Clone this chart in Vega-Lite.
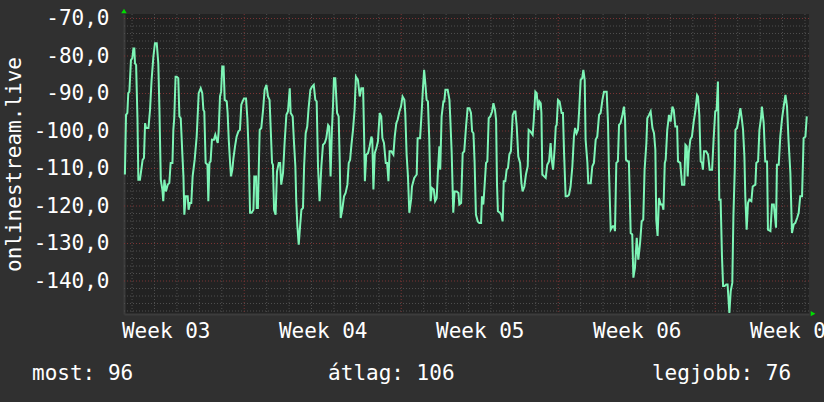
{
"$schema": "https://vega.github.io/schema/vega-lite/v6.json",
"width": 685, "height": 300,
"autosize": "none",
"padding": {"left": 124, "top": 14, "right": 15, "bottom": 88},
"background": "#303030",
"config": {
 "view": {"fill": "#222222", "stroke": null},
 "font": "DejaVu Sans Mono",
 "axis": {"grid": false, "ticks": false, "domain": true, "domainColor": "#3c3c3c", "domainWidth": 2, "labelColor": "#ffffff", "labelFont": "DejaVu Sans Mono", "labelFontSize": 21, "labelFlush": false, "labelOverlap": false, "labelBound": false},
 "axisX": {"labelPadding": 6},
 "axisY": {"labelPadding": 15, "titleColor": "#ffffff", "titleFont": "DejaVu Sans Mono", "titleFontSize": 21, "titleFontWeight": "normal", "titleAngle": -90, "titleX": -110, "titleY": 150, "titleBaseline": "middle", "titleAlign": "center"}
},
"datasets": {
"series": [
{"t":-0.32,"v":-111.6},{"t":-0.27,"v":-95.7},{"t":-0.21,"v":-95.2},{"t":-0.17,"v":-89.9},{"t":-0.12,"v":-89.5},{"t":-0.05,"v":-81.1},{"t":0.01,"v":-80.6},{"t":0.06,"v":-78.0},{"t":0.10,"v":-78.0},{"t":0.13,"v":-82.0},{"t":0.18,"v":-82.4},{"t":0.24,"v":-96.6},{"t":0.28,"v":-113.0},{"t":0.35,"v":-113.0},{"t":0.40,"v":-110.8},{"t":0.47,"v":-107.7},{"t":0.53,"v":-107.2},{"t":0.58,"v":-97.9},{"t":0.62,"v":-99.2},{"t":0.73,"v":-99.2},{"t":0.80,"v":-94.4},{"t":0.87,"v":-86.4},{"t":0.95,"v":-80.2},{"t":1.02,"v":-76.6},{"t":1.10,"v":-76.6},{"t":1.17,"v":-82.0},{"t":1.22,"v":-94.4},{"t":1.28,"v":-113.0},{"t":1.35,"v":-115.6},{"t":1.39,"v":-118.7},{"t":1.44,"v":-113.0},{"t":1.51,"v":-116.1},{"t":1.59,"v":-114.3},{"t":1.66,"v":-113.9},{"t":1.72,"v":-108.5},{"t":1.80,"v":-108.5},{"t":1.84,"v":-99.7},{"t":1.88,"v":-96.6},{"t":1.94,"v":-85.5},{"t":1.99,"v":-85.5},{"t":2.06,"v":-85.9},{"t":2.11,"v":-96.1},{"t":2.17,"v":-96.6},{"t":2.24,"v":-105.9},{"t":2.29,"v":-112.1},{"t":2.33,"v":-122.3},{"t":2.39,"v":-117.4},{"t":2.48,"v":-117.4},{"t":2.52,"v":-121.0},{"t":2.58,"v":-119.2},{"t":2.64,"v":-119.2},{"t":2.70,"v":-112.1},{"t":2.79,"v":-107.7},{"t":2.88,"v":-101.5},{"t":2.93,"v":-95.2},{"t":2.97,"v":-89.9},{"t":3.06,"v":-88.6},{"t":3.13,"v":-89.9},{"t":3.18,"v":-94.4},{"t":3.22,"v":-94.8},{"t":3.28,"v":-108.5},{"t":3.36,"v":-109.0},{"t":3.40,"v":-118.7},{"t":3.45,"v":-108.5},{"t":3.50,"v":-108.1},{"t":3.56,"v":-102.3},{"t":3.65,"v":-102.3},{"t":3.71,"v":-101.0},{"t":3.77,"v":-102.3},{"t":3.82,"v":-103.2},{"t":3.86,"v":-100.1},{"t":3.92,"v":-90.8},{"t":3.97,"v":-89.5},{"t":4.02,"v":-82.8},{"t":4.08,"v":-82.8},{"t":4.13,"v":-91.7},{"t":4.22,"v":-92.1},{"t":4.26,"v":-95.2},{"t":4.31,"v":-102.3},{"t":4.37,"v":-108.5},{"t":4.41,"v":-112.1},{"t":4.47,"v":-110.3},{"t":4.52,"v":-107.2},{"t":4.59,"v":-104.1},{"t":4.66,"v":-101.5},{"t":4.74,"v":-100.1},{"t":4.81,"v":-99.7},{"t":4.87,"v":-93.0},{"t":4.93,"v":-92.1},{"t":4.99,"v":-91.3},{"t":5.08,"v":-91.3},{"t":5.14,"v":-96.6},{"t":5.20,"v":-105.9},{"t":5.26,"v":-121.8},{"t":5.33,"v":-121.8},{"t":5.41,"v":-121.0},{"t":5.45,"v":-112.1},{"t":5.53,"v":-112.1},{"t":5.56,"v":-120.5},{"t":5.61,"v":-120.5},
{"t":5.66,"v":-107.2},{"t":5.69,"v":-99.7},{"t":5.76,"v":-99.2},{"t":5.84,"v":-94.4},{"t":5.91,"v":-89.0},{"t":5.99,"v":-87.7},{"t":6.06,"v":-90.8},{"t":6.13,"v":-91.7},{"t":6.18,"v":-99.2},{"t":6.24,"v":-108.5},{"t":6.28,"v":-109.0},{"t":6.33,"v":-121.0},{"t":6.40,"v":-122.3},{"t":6.46,"v":-110.8},{"t":6.54,"v":-108.5},{"t":6.60,"v":-108.5},{"t":6.65,"v":-114.3},{"t":6.73,"v":-111.2},{"t":6.80,"v":-103.2},{"t":6.88,"v":-95.7},{"t":6.95,"v":-94.8},{"t":7.03,"v":-88.6},{"t":7.07,"v":-95.2},{"t":7.16,"v":-96.1},{"t":7.22,"v":-103.2},{"t":7.28,"v":-109.4},{"t":7.32,"v":-118.7},{"t":7.37,"v":-125.4},{"t":7.43,"v":-130.3},{"t":7.49,"v":-125.4},{"t":7.55,"v":-121.0},{"t":7.62,"v":-120.5},{"t":7.67,"v":-109.4},{"t":7.74,"v":-100.6},{"t":7.81,"v":-98.8},{"t":7.87,"v":-93.9},{"t":7.95,"v":-89.0},{"t":8.02,"v":-88.2},{"t":8.10,"v":-87.7},{"t":8.17,"v":-91.7},{"t":8.23,"v":-92.1},{"t":8.29,"v":-109.4},{"t":8.36,"v":-118.7},{"t":8.44,"v":-109.4},{"t":8.51,"v":-103.7},{"t":8.59,"v":-103.2},{"t":8.66,"v":-101.9},{"t":8.74,"v":-98.4},{"t":8.79,"v":-98.8},{"t":8.85,"v":-112.1},{"t":8.91,"v":-99.7},{"t":8.96,"v":-93.0},{"t":9.00,"v":-85.9},{"t":9.06,"v":-85.9},{"t":9.14,"v":-95.2},{"t":9.21,"v":-96.1},{"t":9.26,"v":-108.5},{"t":9.30,"v":-123.2},{"t":9.37,"v":-121.0},{"t":9.45,"v":-117.4},{"t":9.52,"v":-116.5},{"t":9.60,"v":-114.3},{"t":9.66,"v":-108.5},{"t":9.72,"v":-107.7},{"t":9.78,"v":-103.7},{"t":9.85,"v":-99.7},{"t":9.92,"v":-94.4},{"t":9.98,"v":-85.5},{"t":10.07,"v":-86.4},{"t":10.15,"v":-90.8},{"t":10.22,"v":-88.6},{"t":10.30,"v":-88.6},{"t":10.34,"v":-99.7},{"t":10.38,"v":-113.4},{"t":10.44,"v":-106.3},{"t":10.52,"v":-105.9},{"t":10.59,"v":-104.1},{"t":10.67,"v":-101.5},{"t":10.71,"v":-102.3},{"t":10.76,"v":-115.6},{"t":10.82,"v":-105.9},{"t":10.89,"v":-104.6},{"t":10.96,"v":-102.8},{"t":11.04,"v":-95.2},{"t":11.11,"v":-96.1},{"t":11.16,"v":-101.9},{"t":11.23,"v":-103.2},{"t":11.31,"v":-108.5},{"t":11.37,"v":-108.5},{"t":11.43,"v":-113.4},{"t":11.48,"v":-105.4},{"t":11.56,"v":-105.4},{"t":11.65,"v":-106.3},{"t":11.71,"v":-101.5},{"t":11.78,"v":-97.9},
{"t":11.84,"v":-97.0},{"t":11.92,"v":-94.8},{"t":11.99,"v":-93.5},{"t":12.06,"v":-90.8},{"t":12.14,"v":-91.7},{"t":12.18,"v":-95.2},{"t":12.24,"v":-106.3},{"t":12.30,"v":-112.1},{"t":12.36,"v":-121.8},{"t":12.44,"v":-118.3},{"t":12.48,"v":-114.8},{"t":12.58,"v":-112.5},{"t":12.69,"v":-111.6},{"t":12.73,"v":-101.9},{"t":12.84,"v":-101.9},{"t":12.90,"v":-96.1},{"t":12.96,"v":-89.5},{"t":13.02,"v":-83.7},{"t":13.08,"v":-87.7},{"t":13.13,"v":-91.7},{"t":13.19,"v":-92.1},{"t":13.25,"v":-102.3},{"t":13.31,"v":-118.7},{"t":13.37,"v":-115.2},{"t":13.45,"v":-115.6},{"t":13.51,"v":-118.7},{"t":13.58,"v":-117.9},{"t":13.64,"v":-110.3},{"t":13.70,"v":-104.1},{"t":13.74,"v":-110.3},{"t":13.80,"v":-96.1},{"t":13.88,"v":-92.1},{"t":13.92,"v":-92.1},{"t":13.97,"v":-89.0},{"t":14.07,"v":-89.0},{"t":14.15,"v":-91.7},{"t":14.19,"v":-97.0},{"t":14.25,"v":-105.9},{"t":14.32,"v":-121.8},{"t":14.38,"v":-116.1},{"t":14.47,"v":-116.1},{"t":14.55,"v":-116.5},{"t":14.59,"v":-119.6},{"t":14.67,"v":-119.2},{"t":14.74,"v":-105.9},{"t":14.81,"v":-105.4},{"t":14.89,"v":-98.8},{"t":14.96,"v":-93.9},{"t":15.04,"v":-93.9},{"t":15.11,"v":-95.2},{"t":15.16,"v":-100.1},{"t":15.22,"v":-100.6},{"t":15.27,"v":-108.1},{"t":15.33,"v":-122.3},{"t":15.41,"v":-124.1},{"t":15.48,"v":-124.5},{"t":15.56,"v":-124.5},{"t":15.60,"v":-117.4},{"t":15.66,"v":-119.6},{"t":15.71,"v":-115.2},{"t":15.78,"v":-108.5},{"t":15.84,"v":-108.1},{"t":15.90,"v":-96.6},{"t":15.97,"v":-96.1},{"t":16.05,"v":-94.8},{"t":16.11,"v":-92.6},{"t":16.18,"v":-94.4},{"t":16.23,"v":-97.0},{"t":16.27,"v":-114.3},{"t":16.31,"v":-121.4},{"t":16.40,"v":-121.8},{"t":16.46,"v":-122.3},{"t":16.52,"v":-124.1},{"t":16.57,"v":-113.4},{"t":16.64,"v":-113.4},{"t":16.70,"v":-110.3},{"t":16.76,"v":-109.9},{"t":16.82,"v":-106.3},{"t":16.89,"v":-105.4},{"t":16.97,"v":-95.7},{"t":17.04,"v":-94.8},{"t":17.09,"v":-94.8},{"t":17.15,"v":-98.8},{"t":17.22,"v":-106.8},{"t":17.30,"v":-108.5},{"t":17.36,"v":-113.9},{"t":17.41,"v":-116.1},{"t":17.49,"v":-114.8},{"t":17.56,"v":-111.6},{"t":17.64,"v":-109.4},{"t":17.68,"v":-99.7},{"t":17.76,"v":-100.1},{"t":17.86,"v":-101.0},{"t":17.91,"v":-97.0},{"t":17.98,"v":-89.5},
{"t":18.04,"v":-89.9},{"t":18.10,"v":-94.4},{"t":18.16,"v":-92.1},{"t":18.22,"v":-92.6},{"t":18.25,"v":-95.2},{"t":18.29,"v":-111.6},{"t":18.37,"v":-112.1},{"t":18.44,"v":-112.5},{"t":18.51,"v":-109.0},{"t":18.59,"v":-108.1},{"t":18.66,"v":-103.2},{"t":18.71,"v":-107.7},{"t":18.77,"v":-110.3},{"t":18.84,"v":-104.6},{"t":18.89,"v":-98.8},{"t":18.93,"v":-98.4},{"t":18.99,"v":-91.7},{"t":19.06,"v":-92.1},{"t":19.15,"v":-95.2},{"t":19.21,"v":-95.2},{"t":19.26,"v":-105.9},{"t":19.33,"v":-117.4},{"t":19.41,"v":-117.4},{"t":19.48,"v":-117.0},{"t":19.55,"v":-114.8},{"t":19.63,"v":-109.4},{"t":19.70,"v":-101.5},{"t":19.75,"v":-99.2},{"t":19.82,"v":-100.6},{"t":19.88,"v":-99.7},{"t":19.93,"v":-94.8},{"t":20.00,"v":-86.4},{"t":20.07,"v":-85.9},{"t":20.12,"v":-83.7},{"t":20.18,"v":-86.4},{"t":20.22,"v":-102.3},{"t":20.30,"v":-108.5},{"t":20.34,"v":-113.9},{"t":20.45,"v":-113.9},{"t":20.52,"v":-109.4},{"t":20.59,"v":-108.5},{"t":20.67,"v":-102.3},{"t":20.74,"v":-101.5},{"t":20.82,"v":-95.7},{"t":20.89,"v":-95.2},{"t":20.97,"v":-91.7},{"t":21.04,"v":-89.5},{"t":21.16,"v":-89.5},{"t":21.22,"v":-97.9},{"t":21.26,"v":-110.3},{"t":21.34,"v":-126.3},{"t":21.43,"v":-125.4},{"t":21.49,"v":-125.4},{"t":21.53,"v":-126.7},{"t":21.59,"v":-108.5},{"t":21.66,"v":-108.1},{"t":21.71,"v":-98.4},{"t":21.78,"v":-97.9},{"t":21.86,"v":-95.7},{"t":21.93,"v":-93.5},{"t":21.98,"v":-97.0},{"t":22.02,"v":-107.7},{"t":22.10,"v":-108.1},{"t":22.15,"v":-108.1},{"t":22.23,"v":-127.2},{"t":22.30,"v":-127.6},{"t":22.35,"v":-139.1},{"t":22.42,"v":-136.5},{"t":22.50,"v":-128.5},{"t":22.57,"v":-134.3},{"t":22.65,"v":-129.8},{"t":22.72,"v":-124.1},{"t":22.79,"v":-123.6},{"t":22.85,"v":-110.3},{"t":22.93,"v":-103.2},{"t":22.97,"v":-96.6},{"t":23.05,"v":-95.7},{"t":23.12,"v":-94.8},{"t":23.20,"v":-99.2},{"t":23.27,"v":-100.6},{"t":23.33,"v":-105.0},{"t":23.37,"v":-123.6},{"t":23.43,"v":-128.0},{"t":23.49,"v":-117.9},{"t":23.57,"v":-119.6},{"t":23.64,"v":-119.6},{"t":23.69,"v":-121.0},{"t":23.75,"v":-108.5},{"t":23.79,"v":-107.7},{"t":23.86,"v":-99.7},{"t":23.94,"v":-95.7},{"t":24.01,"v":-97.5},{"t":24.09,"v":-93.5},
{"t":24.15,"v":-94.4},{"t":24.22,"v":-98.8},{"t":24.30,"v":-98.8},{"t":24.34,"v":-108.1},{"t":24.44,"v":-108.5},{"t":24.52,"v":-114.3},{"t":24.62,"v":-114.3},{"t":24.67,"v":-103.7},{"t":24.73,"v":-104.1},{"t":24.77,"v":-112.1},{"t":24.82,"v":-105.9},{"t":24.89,"v":-102.3},{"t":24.96,"v":-101.5},{"t":25.04,"v":-97.5},{"t":25.11,"v":-94.8},{"t":25.19,"v":-90.4},{"t":25.23,"v":-90.8},{"t":25.29,"v":-95.7},{"t":25.35,"v":-108.1},{"t":25.41,"v":-108.5},{"t":25.45,"v":-110.3},{"t":25.50,"v":-105.4},{"t":25.59,"v":-105.4},{"t":25.68,"v":-106.3},{"t":25.75,"v":-110.3},{"t":25.86,"v":-110.3},{"t":25.93,"v":-101.9},{"t":26.00,"v":-94.8},{"t":26.06,"v":-94.4},{"t":26.12,"v":-86.8},{"t":26.18,"v":-118.3},{"t":26.24,"v":-118.3},{"t":26.30,"v":-133.4},{"t":26.35,"v":-141.3},{"t":26.42,"v":-141.3},{"t":26.49,"v":-140.9},{"t":26.55,"v":-140.9},{"t":26.63,"v":-148.5},{"t":26.69,"v":-142.7},{"t":26.76,"v":-140.5},{"t":26.81,"v":-122.7},{"t":26.87,"v":-110.3},{"t":26.90,"v":-99.7},{"t":26.97,"v":-99.2},{"t":27.04,"v":-97.0},{"t":27.12,"v":-93.9},{"t":27.19,"v":-97.0},{"t":27.24,"v":-99.7},{"t":27.30,"v":-106.8},{"t":27.34,"v":-117.4},{"t":27.40,"v":-126.3},{"t":27.46,"v":-119.2},{"t":27.52,"v":-118.3},{"t":27.61,"v":-118.7},{"t":27.67,"v":-114.8},{"t":27.79,"v":-114.3},{"t":27.83,"v":-108.5},{"t":27.91,"v":-108.1},{"t":27.97,"v":-99.7},{"t":28.04,"v":-96.6},{"t":28.08,"v":-93.5},{"t":28.16,"v":-97.9},{"t":28.23,"v":-108.1},{"t":28.31,"v":-108.1},{"t":28.35,"v":-126.3},{"t":28.46,"v":-126.7},{"t":28.53,"v":-119.6},{"t":28.61,"v":-119.6},{"t":28.71,"v":-125.8},{"t":28.75,"v":-109.0},{"t":28.83,"v":-109.0},{"t":28.90,"v":-101.5},{"t":28.98,"v":-96.6},{"t":29.05,"v":-93.5},{"t":29.13,"v":-90.4},{"t":29.20,"v":-93.5},{"t":29.27,"v":-102.8},{"t":29.35,"v":-111.2},{"t":29.42,"v":-127.2},{"t":29.50,"v":-124.9},{"t":29.57,"v":-124.5},{"t":29.65,"v":-123.2},{"t":29.72,"v":-121.8},{"t":29.79,"v":-117.4},{"t":29.87,"v":-117.4},{"t":29.94,"v":-101.9},{"t":30.02,"v":-101.5},{"t":30.08,"v":-96.1}
],
"hminor": [{"v":-148},{"v":-146},{"v":-144},{"v":-142},{"v":-138},{"v":-136},{"v":-134},{"v":-132},{"v":-128},{"v":-126},{"v":-124},{"v":-122},{"v":-118},{"v":-116},{"v":-114},{"v":-112},{"v":-108},{"v":-106},{"v":-104},{"v":-102},{"v":-98},{"v":-96},{"v":-94},{"v":-92},{"v":-88},{"v":-86},{"v":-84},{"v":-82},{"v":-78},{"v":-76},{"v":-74},{"v":-72}],
"hmajor": [{"v":-140},{"v":-130},{"v":-120},{"v":-110},{"v":-100},{"v":-90},{"v":-80},{"v":-70}],
"vminor": [{"t":0},{"t":1},{"t":2},{"t":3},{"t":4},{"t":6},{"t":7},{"t":8},{"t":9},{"t":10},{"t":11},{"t":13},{"t":14},{"t":15},{"t":16},{"t":17},{"t":18},{"t":20},{"t":21},{"t":22},{"t":23},{"t":24},{"t":25},{"t":27},{"t":28},{"t":29},{"t":30}],
"vmajor": [{"t":5},{"t":12},{"t":19},{"t":26}],
"stats": [{"stat": "most", "value": 96}, {"stat": "átlag", "value": 106}, {"stat": "legjobb", "value": 76}]
},
"layer": [
{"data": {"name": "hminor"}, "mark": {"type": "rule", "color": "#4e4e4e", "strokeDash": [1, 2], "strokeWidth": 1},
 "encoding": {"y": {"field": "v", "type": "quantitative", "scale": {"domain": [-148.8, -68.8], "nice": false, "zero": false}, "axis": {"values": [-140, -130, -120, -110, -100, -90, -80, -70], "labelExpr": "datum.value + ',0'", "title": "onlinestream.live"}}}},
{"data": {"name": "vminor"}, "mark": {"type": "rule", "color": "#4e4e4e", "strokeDash": [1, 2], "strokeWidth": 1},
 "encoding": {"x": {"field": "t", "type": "quantitative", "scale": {"domain": [-0.36, 30.18], "nice": false, "zero": false}, "axis": {"values": [1.5, 8.5, 15.5, 22.5, 29.5], "labelExpr": "'Week 0' + (3 + floor(datum.value / 7))", "title": null}}}},
{"data": {"name": "hmajor"}, "mark": {"type": "rule", "color": "#7a3434", "strokeDash": [1, 2], "strokeWidth": 1},
 "encoding": {"y": {"field": "v", "type": "quantitative", "scale": {"domain": [-148.8, -68.8], "nice": false, "zero": false}, "axis": {"values": [-140, -130, -120, -110, -100, -90, -80, -70], "labelExpr": "datum.value + ',0'", "title": "onlinestream.live"}}}},
{"data": {"name": "vmajor"}, "mark": {"type": "rule", "color": "#7a3434", "strokeDash": [1, 2], "strokeWidth": 1},
 "encoding": {"x": {"field": "t", "type": "quantitative", "scale": {"domain": [-0.36, 30.18], "nice": false, "zero": false}, "axis": {"values": [1.5, 8.5, 15.5, 22.5, 29.5], "labelExpr": "'Week 0' + (3 + floor(datum.value / 7))", "title": null}}}},
{"data": {"name": "series"}, "mark": {"type": "line", "color": "#7df5b6", "strokeWidth": 2},
 "encoding": {
  "x": {"field": "t", "type": "quantitative", "scale": {"domain": [-0.36, 30.18], "nice": false, "zero": false}, "axis": {"values": [1.5, 8.5, 15.5, 22.5, 29.5], "labelExpr": "'Week 0' + (3 + floor(datum.value / 7))", "title": null}},
  "y": {"field": "v", "type": "quantitative", "scale": {"domain": [-148.8, -68.8], "nice": false, "zero": false}, "axis": {"values": [-140, -130, -120, -110, -100, -90, -80, -70], "labelExpr": "datum.value + ',0'", "title": "onlinestream.live"}}
 }},
{"data": {"values": [{"t": -0.36, "v": -68.0}]}, "mark": {"type": "point", "shape": "triangle-up", "filled": true, "color": "#00dd00", "opacity": 1, "size": 30, "clip": false},
 "encoding": {"x": {"field": "t", "type": "quantitative", "scale": {"domain": [-0.36, 30.18], "nice": false, "zero": false}, "axis": {"values": [1.5, 8.5, 15.5, 22.5, 29.5], "labelExpr": "'Week 0' + (3 + floor(datum.value / 7))", "title": null}}, "y": {"field": "v", "type": "quantitative", "scale": {"domain": [-148.8, -68.8], "nice": false, "zero": false}, "axis": {"values": [-140, -130, -120, -110, -100, -90, -80, -70], "labelExpr": "datum.value + ',0'", "title": "onlinestream.live"}}}},
{"data": {"values": [{"t": 30.36, "v": -148.7}]}, "mark": {"type": "point", "shape": "triangle-right", "filled": true, "color": "#00dd00", "opacity": 1, "size": 30, "clip": false},
 "encoding": {"x": {"field": "t", "type": "quantitative", "scale": {"domain": [-0.36, 30.18], "nice": false, "zero": false}, "axis": {"values": [1.5, 8.5, 15.5, 22.5, 29.5], "labelExpr": "'Week 0' + (3 + floor(datum.value / 7))", "title": null}}, "y": {"field": "v", "type": "quantitative", "scale": {"domain": [-148.8, -68.8], "nice": false, "zero": false}, "axis": {"values": [-140, -130, -120, -110, -100, -90, -80, -70], "labelExpr": "datum.value + ',0'", "title": "onlinestream.live"}}}},
{"data": {"name": "stats"}, "transform": [{"filter": "datum.stat == 'most'"}, {"calculate": "datum.stat + ': ' + datum.value", "as": "label"}],
 "mark": {"type": "text", "align": "left", "baseline": "middle", "color": "#ffffff", "font": "DejaVu Sans Mono", "fontSize": 21},
 "encoding": {"text": {"field": "label"}, "x": {"datum": -4.46, "type": "quantitative", "scale": {"domain": [-0.36, 30.18], "nice": false, "zero": false}, "axis": {"values": [1.5, 8.5, 15.5, 22.5, 29.5], "labelExpr": "'Week 0' + (3 + floor(datum.value / 7))", "title": null}}, "y": {"datum": -164.9, "type": "quantitative", "scale": {"domain": [-148.8, -68.8], "nice": false, "zero": false}, "axis": {"values": [-140, -130, -120, -110, -100, -90, -80, -70], "labelExpr": "datum.value + ',0'", "title": "onlinestream.live"}}}},
{"data": {"name": "stats"}, "transform": [{"filter": "datum.stat == 'átlag'"}, {"calculate": "datum.stat + ': ' + datum.value", "as": "label"}],
 "mark": {"type": "text", "align": "left", "baseline": "middle", "color": "#ffffff", "font": "DejaVu Sans Mono", "fontSize": 21},
 "encoding": {"text": {"field": "label"}, "x": {"datum": 8.74, "type": "quantitative", "scale": {"domain": [-0.36, 30.18], "nice": false, "zero": false}, "axis": {"values": [1.5, 8.5, 15.5, 22.5, 29.5], "labelExpr": "'Week 0' + (3 + floor(datum.value / 7))", "title": null}}, "y": {"datum": -164.9, "type": "quantitative", "scale": {"domain": [-148.8, -68.8], "nice": false, "zero": false}, "axis": {"values": [-140, -130, -120, -110, -100, -90, -80, -70], "labelExpr": "datum.value + ',0'", "title": "onlinestream.live"}}}},
{"data": {"name": "stats"}, "transform": [{"filter": "datum.stat == 'legjobb'"}, {"calculate": "datum.stat + ': ' + datum.value", "as": "label"}],
 "mark": {"type": "text", "align": "right", "baseline": "middle", "color": "#ffffff", "font": "DejaVu Sans Mono", "fontSize": 21},
 "encoding": {"text": {"field": "label"}, "x": {"datum": 29.38, "type": "quantitative", "scale": {"domain": [-0.36, 30.18], "nice": false, "zero": false}, "axis": {"values": [1.5, 8.5, 15.5, 22.5, 29.5], "labelExpr": "'Week 0' + (3 + floor(datum.value / 7))", "title": null}}, "y": {"datum": -164.9, "type": "quantitative", "scale": {"domain": [-148.8, -68.8], "nice": false, "zero": false}, "axis": {"values": [-140, -130, -120, -110, -100, -90, -80, -70], "labelExpr": "datum.value + ',0'", "title": "onlinestream.live"}}}}
]
}
